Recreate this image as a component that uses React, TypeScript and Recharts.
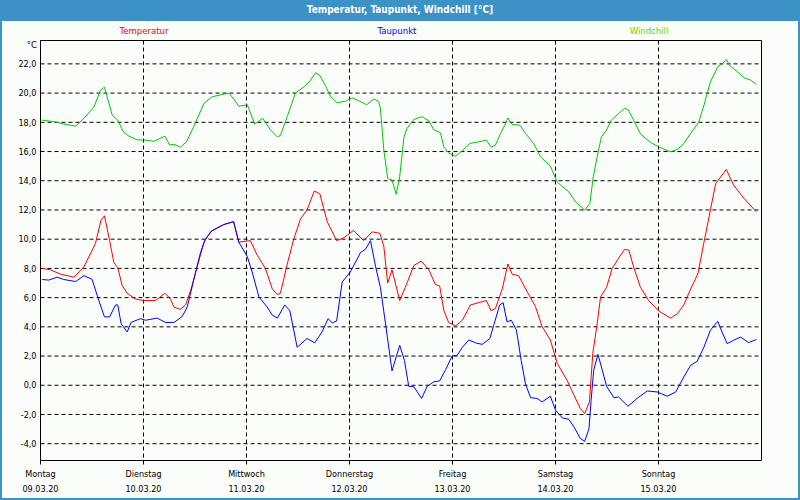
import React from "react";
import { LineChart, Line, XAxis, YAxis, CartesianGrid, ReferenceLine } from "recharts";

// x positions in hours since Monday 09.03.20 00:00
const dayNames = ["Montag", "Dienstag", "Mittwoch", "Donnerstag", "Freitag", "Samstag", "Sonntag"];
const dayDates = ["09.03.20", "10.03.20", "11.03.20", "12.03.20", "13.03.20", "14.03.20", "15.03.20"];
const dayTicks = [0, 24, 48, 72, 96, 120, 144];
const tempTicks = [-4, -2, 0, 2, 4, 6, 8, 10, 12, 14, 16, 18, 20, 22];

const tempHours = [0.4, 2.3, 4.7, 7.8, 10.1, 12.8, 14.1, 14.9, 16.1, 17.1, 18.0, 19.0, 20.2, 22.1, 24.1, 26.8, 29.0, 30.3, 31.1, 32.6, 33.8, 35.0, 36.5, 38.1, 39.6, 42.7, 45.0, 46.2, 48.9, 50.5, 52.4, 54.0, 55.2, 55.9, 57.5, 59.0, 60.6, 62.1, 63.8, 65.1, 66.8, 69.0, 70.7, 72.9, 75.3, 77.3, 79.1, 80.0, 80.9, 81.9, 83.7, 85.0, 87.0, 88.7, 90.5, 92.0, 93.0, 94.0, 95.1, 96.7, 98.3, 100.2, 103.9, 105.0, 106.0, 107.6, 108.9, 109.9, 111.4, 113.4, 115.3, 116.9, 118.8, 120.4, 122.7, 124.3, 125.8, 126.8, 127.9, 128.7, 129.7, 130.5, 131.9, 133.2, 134.7, 136.1, 137.1, 138.2, 139.8, 141.7, 144.1, 146.8, 148.4, 149.9, 151.5, 153.2, 154.6, 156.1, 157.3, 159.8, 161.5, 163.9, 166.8];
const tempValues = [8.0, 7.9, 7.6, 7.4, 8.1, 9.7, 11.3, 11.6, 9.9, 8.4, 8.05, 6.85, 6.3, 5.9, 5.8, 5.8, 6.3, 5.9, 5.35, 5.2, 5.5, 6.5, 8.1, 9.8, 10.5, 11.0, 11.2, 9.8, 9.9, 8.9, 8.0, 6.6, 6.2, 6.3, 8.3, 10.0, 11.4, 12.0, 13.3, 13.1, 11.2, 9.9, 10.1, 10.6, 9.9, 10.5, 10.4, 9.5, 7.0, 7.9, 5.8, 6.7, 8.2, 8.5, 7.9, 6.9, 6.8, 5.1, 4.3, 4.06, 4.45, 5.5, 5.8, 5.1, 5.25, 6.6, 8.3, 7.6, 7.5, 6.4, 5.4, 4.0, 3.1, 1.5, 0.34, -0.68, -1.6, -1.94, -1.14, 2.2, 4.2, 6.05, 6.7, 8.0, 8.7, 9.3, 9.25, 8.1, 6.7, 5.8, 5.07, 4.6, 4.9, 5.5, 6.6, 7.65, 9.8, 12.0, 13.8, 14.77, 13.7, 12.8, 11.87];

const dewHours = [0.4, 1.9, 3.9, 5.4, 8.2, 10.1, 12.0, 13.6, 14.9, 16.1, 17.5, 18.0, 18.8, 20.2, 21.1, 23.3, 24.5, 27.2, 29.1, 31.1, 33.0, 34.2, 35.7, 37.3, 38.4, 40.0, 42.7, 45.0, 46.2, 48.2, 49.3, 50.9, 52.8, 54.0, 55.2, 56.9, 58.1, 59.8, 62.1, 63.9, 65.6, 67.0, 68.0, 69.0, 70.3, 72.2, 74.6, 75.7, 76.9, 78.1, 79.2, 80.4, 81.9, 83.7, 84.8, 85.8, 87.0, 88.8, 90.1, 91.6, 93.0, 94.4, 95.9, 97.1, 98.3, 99.8, 101.4, 102.9, 104.7, 105.6, 107.0, 107.8, 108.7, 109.7, 110.9, 112.0, 113.0, 114.2, 115.7, 116.9, 118.8, 120.0, 121.6, 123.1, 124.3, 125.8, 126.8, 127.8, 128.3, 128.9, 129.9, 130.9, 131.9, 133.6, 134.7, 136.9, 139.0, 141.4, 143.7, 146.0, 148.0, 149.9, 151.5, 153.0, 154.6, 156.1, 157.8, 158.8, 160.0, 161.5, 163.1, 165.0, 166.8];
const dewValues = [7.24, 7.2, 7.4, 7.24, 7.1, 7.5, 7.26, 5.8, 4.68, 4.68, 5.5, 5.5, 4.2, 3.65, 4.3, 4.56, 4.45, 4.6, 4.3, 4.3, 4.7, 5.36, 7.2, 9.1, 10.0, 10.6, 11.0, 11.2, 9.8, 8.8, 7.76, 6.05, 5.36, 4.8, 4.6, 5.5, 5.1, 2.6, 3.2, 2.9, 3.65, 4.56, 4.27, 4.4, 7.07, 7.76, 9.1, 9.3, 9.9, 8.1, 6.7, 4.2, 0.98, 2.74, 1.7, -0.07, -0.1, -0.9, -0.07, 0.23, 0.3, 1.07, 2.0, 2.05, 2.6, 3.1, 2.9, 2.8, 3.2, 4.1, 5.5, 5.65, 4.34, 4.45, 3.77, 1.7, 0.1, -0.85, -0.9, -1.14, -0.75, -1.7, -2.24, -2.33, -2.85, -3.65, -3.84, -2.97, -1.03, 1.03, 2.12, 1.03, -0.07, -0.85, -0.8, -1.44, -0.9, -0.39, -0.46, -0.75, -0.46, 0.57, 1.37, 1.64, 2.62, 3.77, 4.38, 3.65, 2.85, 3.08, 3.3, 2.92, 3.13];

const chillHours = [0.4, 3.5, 5.4, 8.2, 10.1, 12.4, 14.0, 14.9, 16.7, 18.0, 19.3, 20.6, 22.5, 24.5, 26.4, 29.0, 30.1, 31.1, 32.6, 34.0, 35.7, 38.1, 40.0, 42.3, 43.9, 45.0, 46.2, 48.2, 49.9, 51.8, 53.6, 55.2, 55.9, 57.5, 59.4, 61.7, 62.7, 64.1, 65.1, 66.4, 67.6, 69.1, 71.1, 72.6, 74.2, 76.0, 77.7, 78.8, 79.2, 80.0, 80.9, 81.9, 82.9, 83.7, 84.7, 85.4, 87.0, 88.9, 90.5, 91.6, 93.2, 94.0, 95.1, 96.7, 98.3, 100.0, 102.1, 103.9, 105.0, 106.0, 107.2, 108.2, 108.9, 109.9, 111.7, 113.0, 114.9, 116.5, 118.8, 120.4, 123.1, 124.7, 126.8, 128.0, 128.8, 129.7, 130.7, 131.9, 133.0, 134.7, 136.1, 136.9, 138.2, 139.8, 142.0, 144.1, 146.8, 148.4, 149.9, 151.5, 153.4, 154.6, 156.1, 157.8, 158.8, 159.8, 160.7, 162.4, 163.9, 165.4, 166.8];
const chillValues = [18.15, 18.03, 17.88, 17.74, 18.27, 19.02, 20.2, 20.4, 18.5, 18.15, 17.35, 17.05, 16.8, 16.78, 16.7, 17.05, 16.44, 16.5, 16.3, 16.66, 17.7, 19.3, 19.75, 19.9, 20.0, 19.6, 19.1, 19.2, 17.88, 18.27, 17.47, 17.0, 17.1, 18.4, 20.0, 20.5, 20.8, 21.4, 21.2, 20.5, 19.75, 19.34, 19.45, 19.68, 19.47, 19.2, 19.6, 19.4, 18.95, 16.1, 14.16, 14.04, 13.08, 14.3, 17.0, 17.58, 18.2, 18.38, 18.1, 17.5, 17.28, 16.3, 15.9, 15.68, 16.05, 16.55, 16.66, 16.78, 16.3, 16.44, 17.24, 17.8, 18.3, 17.85, 17.8, 17.24, 16.55, 15.64, 15.0, 13.9, 13.24, 12.55, 11.99, 12.44, 14.27, 15.64, 17.0, 17.47, 18.15, 18.6, 18.95, 18.88, 18.15, 17.2, 16.66, 16.3, 15.98, 16.14, 16.55, 17.24, 18.03, 19.18, 20.77, 21.8, 21.99, 22.3, 21.85, 21.46, 21.05, 20.9, 20.6];

const toPoints = (hours: number[], values: number[]) => hours.map((h, i) => ({ h, v: values[i] }));
const tempData = toPoints(tempHours, tempValues);
const dewData = toPoints(dewHours, dewValues);
const chillData = toPoints(chillHours, chillValues);

const FONT = "'DejaVu Sans Condensed', 'Liberation Sans', sans-serif";
const BLUE = "#3c91c5";
const Y_MIN = -5.15;
const Y_MAX = 23.6;

const DayTick = (props: any) => {
  const { x, y, index } = props;
  return (
    <g>
      <text x={x} y={y + 10} textAnchor="middle" fontFamily={FONT} fontSize={9} fill="#000">
        {dayNames[index]}
      </text>
      <text x={x} y={y + 25} textAnchor="middle" fontFamily={FONT} fontSize={9} fill="#000">
        {dayDates[index]}
      </text>
    </g>
  );
};

const legendStyle = (center: number, color: string): React.CSSProperties => ({
  position: "absolute",
  left: center - 60,
  width: 120,
  top: 24,
  textAlign: "center",
  fontFamily: FONT,
  fontSize: 9.5,
  lineHeight: "13px",
  color,
});

export default function App() {
  return (
    <div
      style={{
        position: "fixed",
        left: 0,
        top: 0,
        width: 800,
        height: 500,
        boxSizing: "border-box",
        background: "#fbfdfb",
        borderLeft: `2px solid ${BLUE}`,
        borderRight: `2px solid ${BLUE}`,
        borderBottom: `2px solid ${BLUE}`,
        overflow: "hidden",
      }}
    >
      <div style={{ position: "absolute", left: -2, top: 0, width: 800 }}>
        <div
          style={{
            height: 21,
            background: BLUE,
            color: "#fff",
            fontFamily: FONT,
            fontWeight: "bold",
            fontSize: 10,
            lineHeight: "20px",
            textAlign: "center",
          }}
        >
          Temperatur, Taupunkt, Windchill [°C]
        </div>
        <div style={legendStyle(144, "#ff0000")}>Temperatur</div>
        <div style={legendStyle(397, "#0000ee")}>Taupunkt</div>
        <div style={legendStyle(649, "#55dd00")}>Windchill</div>
        <div
          style={{
            position: "absolute",
            left: 0,
            width: 37,
            top: 38,
            textAlign: "right",
            fontFamily: FONT,
            fontSize: 9.5,
            lineHeight: "14px",
            color: "#000",
          }}
        >
          °C
        </div>
        <LineChart
          width={800}
          height={500}
          margin={{ top: 40.5, right: 38.5, bottom: 0, left: 0.5 }}
          style={{ position: "absolute", left: 0, top: 0 }}
        >
          <CartesianGrid
            stroke="#000"
            strokeDasharray="4 3"
            horizontalValues={tempTicks}
            verticalValues={dayTicks}
          />
          <XAxis
            type="number"
            dataKey="h"
            domain={[0, 168]}
            ticks={dayTicks}
            allowDataOverflow
            height={39.5}
            axisLine={{ stroke: "#000" }}
            tickLine={{ stroke: "#000" }}
            tickSize={4}
            tick={<DayTick />}
            interval={0}
          />
          <YAxis
            type="number"
            dataKey="v"
            domain={[Y_MIN, Y_MAX]}
            ticks={tempTicks}
            allowDataOverflow
            width={40}
            axisLine={{ stroke: "#000" }}
            tickLine={false}
            tickSize={0}
            tickMargin={4}
            interval={0}
            tick={{ fontFamily: FONT, fontSize: 9, fill: "#000" }}
            tickFormatter={(v: number) => v.toFixed(1).replace(".", ",")}
          />
          <ReferenceLine y={Y_MAX} stroke="#000" />
          <ReferenceLine x={168} stroke="#000" />
          <Line data={chillData} dataKey="v" type="linear" stroke="#00c800" strokeWidth={1} dot={false} isAnimationActive={false} />
          <Line data={tempData} dataKey="v" type="linear" stroke="#ff0000" strokeWidth={1} dot={false} isAnimationActive={false} />
          <Line data={dewData} dataKey="v" type="linear" stroke="#0000ff" strokeWidth={1} dot={false} isAnimationActive={false} />
        </LineChart>
      </div>
    </div>
  );
}
